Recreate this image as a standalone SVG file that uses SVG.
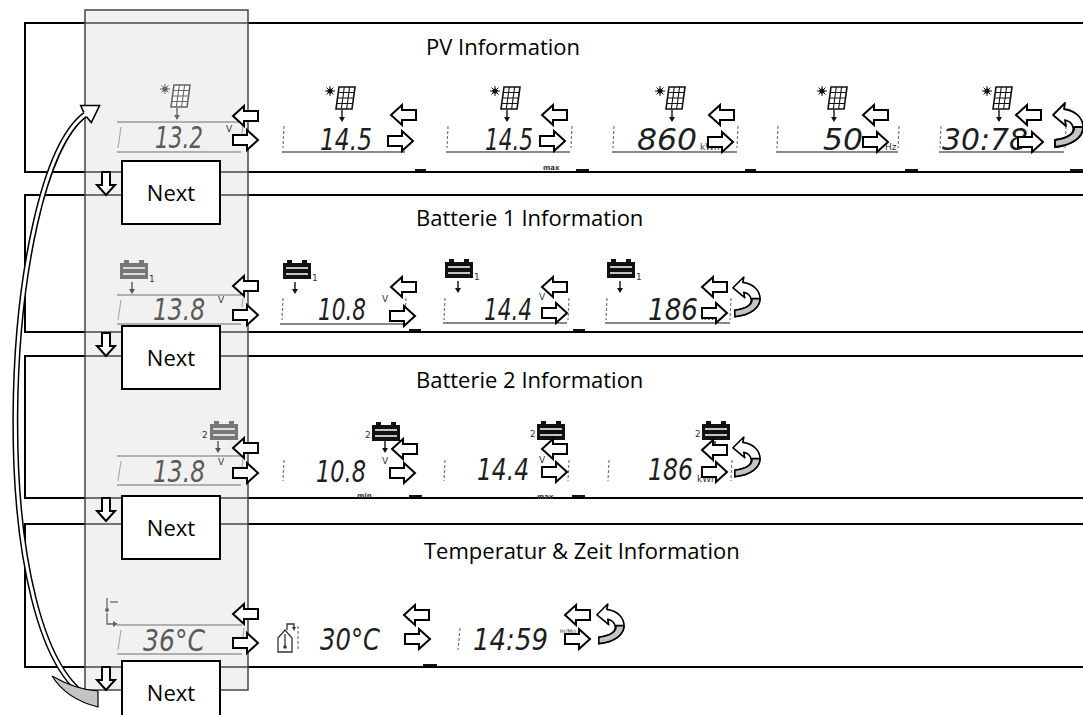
<svg xmlns="http://www.w3.org/2000/svg" xmlns:xlink="http://www.w3.org/1999/xlink" width="1083" height="715" viewBox="0 0 1083 715">
<style>
.row{fill:none;stroke:#000;stroke-width:2}
.title{font-family:"Open Sans","Liberation Sans",sans-serif;font-size:22px;fill:#000}
.nx rect{fill:#fff;stroke:#000;stroke-width:2}
.nx text{font-family:"Open Sans","Liberation Sans",sans-serif;font-size:22px;fill:#000;text-anchor:middle}
.lcd{font-family:"DejaVu Sans",sans-serif;font-style:italic;font-size:30px;fill:#1e1e1e}
.lcdc{fill:#5a5a5a}
.unit{font-family:"DejaVu Sans",sans-serif;font-size:9px;fill:#333}
.tiny{font-family:"DejaVu Sans",sans-serif;font-size:7px;font-weight:bold;fill:#333}
.ul{stroke:#888;stroke-width:2}
.fr{stroke:#999;stroke-width:1.5}
.tk{stroke:#777;stroke-width:1.2;stroke-dasharray:3 2}
.blk{fill:#fff;stroke:#000;stroke-width:2;stroke-linejoin:miter}
.mk{fill:#111}
</style>
<defs>
<path id="aR" d="M0,-5H14V-10L25,0L14,10V5H0Z"/>
<path id="aL" d="M25,-5H11V-10L0,0L11,10V5H25Z"/>
<path id="aD" d="M-4,0V13H-9L0,23L9,13H4V0Z"/>
<g id="uT">
<path d="M0,12L12,0L11,6C24,8 30,16 30,24C30,34 20,42 2,44L2,37C16,35 22,30 20,24C19,20 16,18 12,17L13,23Z" fill="#fff" stroke="#000" stroke-width="1.8" stroke-linejoin="round"/>
<path d="M30,24C30,34 20,42 2,44L2,37C16,35 22,30 21,24Z" fill="#c4c4c4" stroke="#000" stroke-width="1.8" stroke-linejoin="round"/>
</g>
<g id="sa">
<path d="M0,0V8" stroke="currentColor" stroke-width="1.4" fill="none"/>
<path d="M-3,7H3L0,12Z" fill="currentColor"/>
</g>
<g id="solar">
<circle cx="5" cy="6" r="2.6" fill="currentColor"/>
<path d="M5,1V11M0,6H10M1.5,2.5L8.5,9.5M8.5,2.5L1.5,9.5" stroke="currentColor" stroke-width="1" fill="none"/>
<path d="M14,2H30L27,24H11Z" fill="#fff" stroke="currentColor" stroke-width="1.6"/>
<path d="M19.3,2L16.3,24M24.6,2L21.6,24M13.25,7.5H29.25M12.5,13H28.5M11.75,18.5H27.75" stroke="currentColor" stroke-width="1.1" fill="none"/>
<use href="#sa" x="17" y="25"/>
</g>
<g id="batt">
<rect x="4" y="0" width="5" height="3" fill="currentColor"/>
<rect x="19" y="0" width="5" height="3" fill="currentColor"/>
<rect x="0" y="3" width="28" height="16" fill="currentColor"/>
<path d="M3,8H25M3,14H25" stroke="#fff" stroke-width="1.3" fill="none"/>
</g>
</defs>

<rect width="1083" height="715" fill="#fff"/>

<g id="rows">
<g id="row-pv"><path class="row" d="M1090,23H25V172H1090"/><text class="title" x="426" y="55">PV Information</text></g>
<g id="row-batt1"><path class="row" d="M1090,195H25V332H1090"/><text class="title" x="416" y="226">Batterie 1 Information</text></g>
<g id="row-batt2"><path class="row" d="M1090,356H25V498H1090"/><text class="title" x="416" y="388">Batterie 2 Information</text></g>
<g id="row-temp"><path class="row" d="M1090,524H25V667H1090"/><text class="title" x="424" y="559">Temperatur &amp; Zeit Information</text></g>
<g id="marks">
<rect class="mk" x="415" y="169" width="11" height="2"/><rect class="mk" x="576" y="169" width="13" height="2"/><rect class="mk" x="745" y="169" width="11" height="2"/><rect class="mk" x="905" y="169" width="13" height="2"/><rect class="mk" x="1070" y="169" width="13" height="2"/>
<rect class="mk" x="409" y="329" width="12" height="2"/><rect class="mk" x="573" y="329" width="12" height="2"/>
<rect class="mk" x="409" y="495" width="13" height="2"/><rect class="mk" x="572" y="495" width="13" height="2"/>
<rect class="mk" x="423" y="664" width="14" height="2"/>
</g>
</g>

<g id="column">
<rect x="85" y="10" width="163" height="680" fill="#e4e4e4" fill-opacity="0.5" stroke="#444" stroke-width="1.5"/>
</g>

<g id="pv-main">
<use href="#solar" x="160" y="83" style="color:#666"/>
<line class="fr" x1="117" y1="122" x2="241" y2="122"/><line class="fr" x1="117" y1="152" x2="241" y2="152"/>
<line stroke="#aaa" stroke-width="1.2" x1="121" y1="127" x2="118" y2="148"/><line stroke="#aaa" stroke-width="1.2" x1="243" y1="125" x2="242" y2="134"/>
<text class="lcd lcdc" x="155" y="148" textLength="48" lengthAdjust="spacingAndGlyphs">13.2</text>
<text class="unit" x="226" y="132" fill="#666">V</text>
</g>
<g id="pv-1">
<use href="#solar" x="325" y="85" style="color:#111"/>
<line class="ul" x1="282" y1="152" x2="405" y2="152"/><line class="tk" x1="284" y1="126" x2="283" y2="148"/>
<text class="lcd" x="320" y="150" textLength="52" lengthAdjust="spacingAndGlyphs">14.5</text>
</g>
<g id="pv-2">
<use href="#solar" x="490" y="85" style="color:#111"/>
<line class="ul" x1="446" y1="152" x2="570" y2="152"/><line class="tk" x1="448" y1="126" x2="447" y2="148"/><line class="tk" x1="572" y1="126" x2="571" y2="148"/>
<text class="lcd" x="485" y="150" textLength="48" lengthAdjust="spacingAndGlyphs">14.5</text>
<text class="tiny" x="543" y="170">max</text>
</g>
<g id="pv-3">
<use href="#solar" x="655" y="85" style="color:#111"/>
<line class="ul" x1="612" y1="152" x2="737" y2="152"/><line class="tk" x1="614" y1="126" x2="613" y2="148"/><line class="tk" x1="738" y1="126" x2="737" y2="148"/>
<text class="lcd" x="637" y="150" textLength="60" lengthAdjust="spacingAndGlyphs">860</text>
<text class="unit" x="700" y="150">kWh</text>
</g>
<g id="pv-4">
<use href="#solar" x="817" y="85" style="color:#111"/>
<line class="ul" x1="776" y1="152" x2="898" y2="152"/><line class="tk" x1="778" y1="126" x2="777" y2="148"/><line class="tk" x1="899" y1="126" x2="898" y2="148"/>
<text class="lcd" x="823" y="150" textLength="40" lengthAdjust="spacingAndGlyphs">50</text>
<text class="unit" x="885" y="150">Hz</text>
</g>
<g id="pv-5">
<use href="#solar" x="982" y="85" style="color:#111"/>
<line class="ul" x1="939" y1="152" x2="1064" y2="152"/><line class="tk" x1="941" y1="126" x2="940" y2="148"/><line class="tk" x1="1066" y1="126" x2="1065" y2="148"/>
<text class="lcd" x="942" y="150" textLength="86" lengthAdjust="spacingAndGlyphs">30:78</text>
</g>

<g id="b1-main">
<use href="#batt" x="120" y="260" style="color:#777"/><text class="unit" x="149" y="282" fill="#666">1</text>
<use href="#sa" x="132" y="282" style="color:#555"/>
<line class="fr" x1="117" y1="295" x2="241" y2="295"/><line class="fr" x1="117" y1="324" x2="241" y2="324"/>
<line stroke="#aaa" stroke-width="1.2" x1="121" y1="300" x2="118" y2="320"/><line stroke="#aaa" stroke-width="1.2" x1="243" y1="298" x2="242" y2="307"/>
<text class="lcd lcdc" x="153" y="320" textLength="52" lengthAdjust="spacingAndGlyphs">13.8</text>
<text class="unit" x="218" y="303" fill="#666">V</text>
</g>
<g id="b1-1">
<use href="#batt" x="283" y="260" style="color:#111"/><text class="unit" x="312" y="281">1</text>
<use href="#sa" x="295" y="282" style="color:#111"/>
<line class="ul" x1="280" y1="324" x2="405" y2="324"/><line class="tk" x1="283" y1="298" x2="282" y2="320"/><line class="tk" x1="406" y1="298" x2="405" y2="320"/>
<text class="lcd" x="318" y="320" textLength="48" lengthAdjust="spacingAndGlyphs">10.8</text>
<text class="unit" x="382" y="302">V</text>
</g>
<g id="b1-2">
<use href="#batt" x="445" y="259" style="color:#111"/><text class="unit" x="474" y="280">1</text>
<use href="#sa" x="458" y="281" style="color:#111"/>
<line class="ul" x1="443" y1="323" x2="567" y2="323"/><line class="tk" x1="445" y1="298" x2="444" y2="320"/><line class="tk" x1="569" y1="298" x2="568" y2="320"/>
<text class="lcd" x="484" y="320" textLength="48" lengthAdjust="spacingAndGlyphs">14.4</text>
<text class="unit" x="539" y="300">V</text>
</g>
<g id="b1-3">
<use href="#batt" x="607" y="259" style="color:#111"/><text class="unit" x="636" y="280">1</text>
<use href="#sa" x="620" y="281" style="color:#111"/>
<line class="ul" x1="605" y1="323" x2="730" y2="323"/><line class="tk" x1="607" y1="298" x2="606" y2="320"/><line class="tk" x1="731" y1="298" x2="730" y2="320"/>
<text class="lcd" x="648" y="320" textLength="50" lengthAdjust="spacingAndGlyphs">186</text>
<text class="unit" x="701" y="320">kWh</text>
</g>

<g id="b2-main">
<use href="#batt" x="210" y="421" style="color:#777"/><text class="unit" x="202" y="438" fill="#666">2</text>
<use href="#sa" x="218" y="441" style="color:#555"/>
<line class="fr" x1="117" y1="456" x2="241" y2="456"/><line class="fr" x1="117" y1="485" x2="241" y2="485"/>
<line stroke="#aaa" stroke-width="1.2" x1="121" y1="461" x2="118" y2="481"/><line stroke="#aaa" stroke-width="1.2" x1="243" y1="459" x2="242" y2="468"/>
<text class="lcd lcdc" x="153" y="482" textLength="52" lengthAdjust="spacingAndGlyphs">13.8</text>
<text class="unit" x="218" y="465" fill="#666">V</text>
</g>
<g id="b2-1">
<use href="#batt" x="372" y="422" style="color:#111"/><text class="unit" x="365" y="438">2</text>
<use href="#sa" x="385" y="441" style="color:#111"/>
<line class="tk" x1="284" y1="460" x2="283" y2="481"/>
<text class="lcd" x="316" y="482" textLength="50" lengthAdjust="spacingAndGlyphs">10.8</text>
<text class="unit" x="382" y="464">V</text>
<text class="tiny" x="357" y="498">min</text>
</g>
<g id="b2-2">
<use href="#batt" x="537" y="421" style="color:#111"/><text class="unit" x="530" y="437">2</text>
<use href="#sa" x="550" y="441" style="color:#111"/>
<line class="tk" x1="445" y1="460" x2="444" y2="481"/><line class="tk" x1="569" y1="460" x2="568" y2="481"/>
<text class="lcd" x="477" y="480" textLength="52" lengthAdjust="spacingAndGlyphs">14.4</text>
<text class="unit" x="539" y="463">V</text>
<text class="tiny" x="537" y="499">max</text>
</g>
<g id="b2-3">
<use href="#batt" x="702" y="421" style="color:#111"/><text class="unit" x="695" y="437">2</text>
<use href="#sa" x="715" y="441" style="color:#111"/>
<line class="tk" x1="609" y1="460" x2="608" y2="481"/><line class="tk" x1="732" y1="460" x2="731" y2="481"/>
<text class="lcd" x="648" y="480" textLength="45" lengthAdjust="spacingAndGlyphs">186</text>
<text class="unit" x="697" y="482">kWh</text>
</g>

<g id="t-main">
<g stroke="#666" stroke-width="1.3" fill="none">
<path d="M107,598V609"/><path d="M110,602H118"/><path d="M107,613V624H114"/>
</g>
<circle cx="107" cy="610" r="2" fill="#666"/>
<path d="M113,621L118,624L113,627Z" fill="#666"/>
<line class="fr" x1="117" y1="625" x2="242" y2="625"/><line class="fr" x1="117" y1="654" x2="242" y2="654"/>
<line stroke="#aaa" stroke-width="1.2" x1="121" y1="630" x2="118" y2="650"/><line stroke="#aaa" stroke-width="1.2" x1="244" y1="628" x2="243" y2="637"/>
<text class="lcd lcdc" x="143" y="651" textLength="62" lengthAdjust="spacingAndGlyphs">36°C</text>
</g>
<g id="t-1">
<g stroke="#333" stroke-width="1.3" fill="none">
<path d="M278,638L285,630L292,638V652H278Z"/><path d="M285,634V646"/><path d="M287,630V624H294V628"/>
</g>
<path d="M292,627H296L294,631Z" fill="#333"/>
<circle cx="285" cy="647" r="1.8" fill="#333"/>
<line class="tk" x1="298" y1="626" x2="298" y2="650"/>
<text class="lcd" x="320" y="650" textLength="60" lengthAdjust="spacingAndGlyphs">30°C</text>
</g>
<g id="t-2">
<line class="tk" x1="460" y1="628" x2="458" y2="650"/>
<text class="lcd" x="473" y="650" textLength="75" lengthAdjust="spacingAndGlyphs">14:59</text>
<text class="unit" x="560" y="633" style="font-size:5px">Hr/Min</text>
</g>

<g id="nodes-next" class="nx">
<g id="next-1"><rect x="122" y="161" width="98" height="63"/><text x="171" y="201">Next</text></g>
<g id="next-2"><rect x="122" y="326" width="98" height="63"/><text x="171" y="366">Next</text></g>
<g id="next-3"><rect x="122" y="496" width="98" height="63"/><text x="171" y="536">Next</text></g>
<g id="next-4"><rect x="122" y="661" width="98" height="63"/><text x="171" y="701">Next</text></g>
</g>

<g id="connectors">
<g class="blk">
<use href="#aD" x="106" y="172"/><use href="#aD" x="106" y="333"/><use href="#aD" x="106" y="498"/><use href="#aD" x="106" y="667"/>
<use href="#aL" x="233" y="116"/><use href="#aR" x="233" y="140"/>
<use href="#aL" x="391" y="115"/><use href="#aR" x="388" y="141"/>
<use href="#aL" x="542" y="115"/><use href="#aR" x="540" y="141"/>
<use href="#aL" x="709" y="115"/><use href="#aR" x="708" y="142"/>
<use href="#aL" x="863" y="115"/><use href="#aR" x="863" y="142"/>
<use href="#aL" x="1016" y="115"/><use href="#aR" x="1018" y="142"/>
<use href="#aL" x="233" y="286"/><use href="#aR" x="233" y="315"/>
<use href="#aL" x="391" y="287"/><use href="#aR" x="390" y="316"/>
<use href="#aL" x="542" y="287"/><use href="#aR" x="542" y="313"/>
<use href="#aL" x="702" y="287"/><use href="#aR" x="702" y="313"/>
<use href="#aL" x="233" y="448"/><use href="#aR" x="233" y="473"/>
<use href="#aL" x="392" y="449"/><use href="#aR" x="390" y="473"/>
<use href="#aL" x="542" y="449"/><use href="#aR" x="542" y="472"/>
<use href="#aL" x="702" y="450"/><use href="#aR" x="702" y="472"/>
<use href="#aL" x="233" y="614"/><use href="#aR" x="233" y="643"/>
<use href="#aL" x="404" y="615"/><use href="#aR" x="405" y="639"/>
<use href="#aL" x="565" y="615"/><use href="#aR" x="565" y="639"/>
</g>
<use href="#uT" transform="translate(1053,103)"/>
<use href="#uT" transform="translate(733,277) scale(0.9)"/>
<use href="#uT" transform="translate(733,437) scale(0.9)"/>
<use href="#uT" transform="translate(597,604) scale(0.9)"/>
<g id="loop-arrow">
<path d="M97,702C-20,655 0,175 86,114" fill="none" stroke="#000" stroke-width="6"/>
<path d="M97,702C-20,655 0,175 86,114" fill="none" stroke="#fff" stroke-width="3"/>
<path d="M98,691L98,707C78,702 62,692 52,676C66,684 80,690 98,691Z" fill="#c4c4c4" stroke="#000" stroke-width="1.2"/>
<path d="M-1,-2.5L0,-10L16,0L0,10L-1,2.5" fill="#fff" stroke="#000" stroke-width="1.6" transform="translate(86,114) rotate(-32)"/>
</g>
</g>
</svg>
